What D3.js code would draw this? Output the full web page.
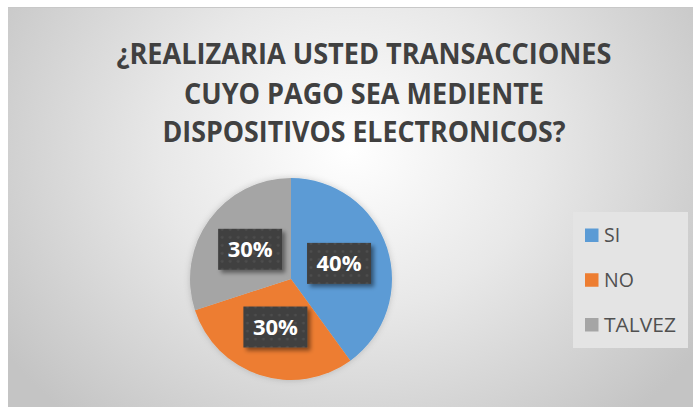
<!DOCTYPE html>
<html><head><meta charset="utf-8">
<script src="https://cdn.jsdelivr.net/npm/d3@7/dist/d3.min.js"></script>
<style>html,body{margin:0;padding:0;background:#fff;}svg{display:block;}</style>
</head><body>
<script>
const titleLines = ["¿REALIZARIA USTED TRANSACCIONES", "CUYO PAGO SEA MEDIENTE", "DISPOSITIVOS ELECTRONICOS?"];
const categories = ["SI", "NO", "TALVEZ"];
const values = [40, 30, 30];
const colors = ["#5B9BD5", "#ED7D31", "#A5A5A5"];

const W = 693, H = 407;
const svg = d3.select("body").append("svg").attr("width", W).attr("height", H);
const defs = svg.append("defs");

const bg = defs.append("radialGradient").attr("id","bg")
  .attr("gradientUnits","userSpaceOnUse").attr("cx",350).attr("cy",150).attr("r",420)
  .attr("gradientTransform","translate(350,150) scale(1,0.85) translate(-350,-150)");
bg.append("stop").attr("offset","0%").attr("stop-color","#ffffff");
bg.append("stop").attr("offset","45%").attr("stop-color","#e8e8e8");
bg.append("stop").attr("offset","100%").attr("stop-color","#c4c4c4");

const pat = defs.append("pattern").attr("id","dots").attr("patternUnits","userSpaceOnUse")
  .attr("width",8).attr("height",8);
pat.append("rect").attr("width",8).attr("height",8).attr("fill","#3f3f3f");
pat.append("circle").attr("cx",4).attr("cy",4).attr("r",1.6).attr("fill","#4d4d4d");

const sh = defs.append("filter").attr("id","sh").attr("x","-30%").attr("y","-30%").attr("width","170%").attr("height","170%");
sh.append("feDropShadow").attr("dx",3).attr("dy",3).attr("stdDeviation",2).attr("flood-color","#000").attr("flood-opacity",0.45);
const psh = defs.append("filter").attr("id","psh").attr("x","-20%").attr("y","-20%").attr("width","140%").attr("height","140%");
psh.append("feDropShadow").attr("dx",0).attr("dy",0).attr("stdDeviation",3).attr("flood-color","#000").attr("flood-opacity",0.18);

svg.append("rect").attr("x",8).attr("y",7).attr("width",W-8).attr("height",H-7).attr("fill","url(#bg)");
svg.append("line").attr("x1",8).attr("x2",W).attr("y1",7.5).attr("y2",7.5).attr("stroke","#c8c8c8");

// title
const tx = 364, tBase = [63.5, 104, 142], tWidth = [495, 360, 403];
svg.append("g").selectAll("text").data(titleLines).join("text")
  .attr("x", tx).attr("y", (d,i)=>tBase[i]).attr("text-anchor","middle")
  .attr("font-family","'Open Sans', sans-serif").attr("font-weight",700).attr("font-size",28)
  .attr("fill","#404040")
  .attr("textLength",(d,i)=>tWidth[i]).attr("lengthAdjust","spacingAndGlyphs")
  .text(d=>d);

// pie
const cx = 291, cy = 279, R = 101;
const pie = d3.pie().sort(null).value(d=>d)(values);
const arc = d3.arc().innerRadius(0).outerRadius(R);
const lab = d3.arc().innerRadius(R*0.5).outerRadius(R*0.5);
const g = svg.append("g").attr("transform",`translate(${cx},${cy})`);
g.append("g").attr("filter","url(#psh)").selectAll("path").data(pie).join("path")
  .attr("d",arc).attr("fill",(d,i)=>colors[i]);

const total = d3.sum(values);
const lg = g.append("g").selectAll("g").data(pie).join("g")
  .attr("transform",d=>`translate(${lab.centroid(d)})`);
lg.append("rect").attr("x",-32).attr("y",-20.5).attr("width",64).attr("height",41)
  .attr("fill","url(#dots)").attr("filter","url(#sh)");
lg.append("text").attr("text-anchor","middle").attr("y",8)
  .attr("font-family","'Open Sans', sans-serif").attr("font-weight",700).attr("font-size",21)
  .attr("fill","#ffffff").attr("textLength",45).attr("lengthAdjust","spacingAndGlyphs")
  .text(d=>Math.round(d.data/total*100)+"%");

// legend
svg.append("rect").attr("x",573).attr("y",212).attr("width",115).attr("height",136).attr("fill","#e4e4e4");
const legY = d3.scalePoint().domain(categories).range([235, 324.5]);
const li = svg.append("g").selectAll("g").data(categories).join("g")
  .attr("transform",d=>`translate(585,${legY(d)})`);
li.append("rect").attr("x",0).attr("y",-6.5).attr("width",13.5).attr("height",13.5).attr("fill",(d,i)=>colors[i]);
li.append("text").attr("x",19).attr("y",7).attr("font-family","'Open Sans', sans-serif")
  .attr("font-size",19.5).attr("fill","#505050").text(d=>d)
  .each(function(d){ if(d==="TALVEZ") d3.select(this).attr("textLength",72).attr("lengthAdjust","spacingAndGlyphs"); });
</script>
</body></html>
